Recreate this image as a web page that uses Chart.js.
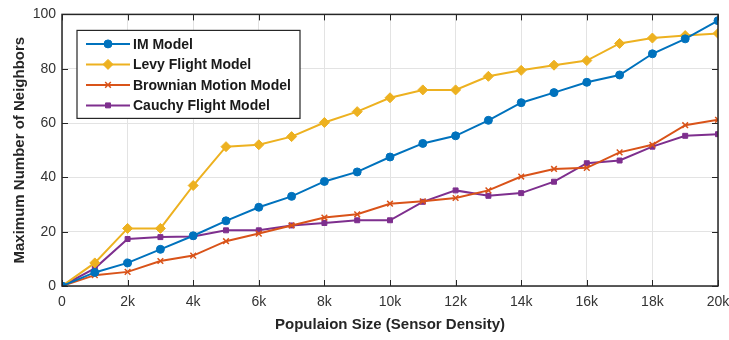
<!DOCTYPE html>
<html>
<head>
<meta charset="utf-8">
<script src="https://cdn.jsdelivr.net/npm/chart.js@4.4.1/dist/chart.umd.min.js"></script>
<style>
  html, body { margin: 0; padding: 0; background: #fff; }
  #wrap { width: 729px; height: 340px; }
</style>
</head>
<body>
<div id="wrap"><canvas id="chart" width="729" height="340"></canvas></div>
<script>
// population size (x values)
const popSize = [0, 1000, 2000, 3000, 4000, 5000, 6000, 7000, 8000, 9000, 10000,
                 11000, 12000, 13000, 14000, 15000, 16000, 17000, 18000, 19000, 20000];

// max neighbours per model
const imModel       = [0, 5, 8.5, 13.5, 18.5, 24, 29, 33, 38.5, 42, 47.5, 52.5, 55.3, 61, 67.5, 71.2, 75, 77.7, 85.5, 91, 97.7];
const levyModel     = [0, 8.5, 21.2, 21.2, 37, 51.3, 52, 55, 60.2, 64.2, 69.3, 72.2, 72.2, 77.2, 79.4, 81.3, 83, 89.3, 91.3, 92.2, 93];
const brownianModel = [0, 4, 5.2, 9.2, 11.2, 16.5, 19.3, 22.3, 25.2, 26.4, 30.3, 31.2, 32.4, 35.2, 40.3, 43.1, 43.5, 49.2, 52, 59.2, 61.2];
const cauchyModel   = [0, 6.5, 17.3, 18, 18.2, 20.5, 20.5, 22.3, 23.2, 24.2, 24.2, 31, 35.2, 33.2, 34.2, 38.4, 45.2, 46.2, 51.3, 55.3, 55.9];

const xTicks = [0, 2000, 4000, 6000, 8000, 10000, 12000, 14000, 16000, 18000, 20000];
const yTicks = [0, 20, 40, 60, 80, 100];

const FONT = "'Liberation Sans', Arial, sans-serif";

function toPoints(ys) {
    return ys.map((y, i) => ({ x: popSize[i], y: y }));
}

function series(label, ys, color, style, radius) {
    return {
        label: label,
        data: toPoints(ys),
        borderColor: color,
        backgroundColor: color,
        borderWidth: 2,
        pointStyle: style,
        pointRadius: radius,
        pointBorderWidth: style === 'crossRot' ? 1.5 : 1,
        pointBorderColor: color,
        pointBackgroundColor: color,
        tension: 0
    }
}

// matlab style box, inward ticks, and legend inside the axes
const matlabBox = {
    id: 'matlabBox',
    afterDatasetsDraw(chart) {
        const ctx = chart.ctx
        const a = chart.chartArea
        const xs = chart.scales.x
        const ys = chart.scales.y
        ctx.save()
        ctx.strokeStyle = '#262626'
        ctx.lineWidth = 1.5
        ctx.strokeRect(a.left, a.top, a.right - a.left, a.bottom - a.top)

        // inward ticks
        ctx.lineWidth = 1
        xTicks.forEach(v => {
            const px = Math.round(xs.getPixelForValue(v)) + 0.5
            ctx.beginPath()
            ctx.moveTo(px, a.bottom); ctx.lineTo(px, a.bottom - 6)
            ctx.moveTo(px, a.top); ctx.lineTo(px, a.top + 6)
            ctx.stroke()
        })
        yTicks.forEach(v => {
            const py = Math.round(ys.getPixelForValue(v)) + 0.5
            ctx.beginPath()
            ctx.moveTo(a.left, py); ctx.lineTo(a.left + 6, py)
            ctx.moveTo(a.right, py); ctx.lineTo(a.right - 6, py)
            ctx.stroke()
        })

        // legend
        const lx = a.left + 15
        const ly = a.top + 16
        const lw = 223
        const lh = 88
        ctx.fillStyle = '#fff'
        ctx.fillRect(lx, ly, lw, lh)
        ctx.strokeStyle = '#262626'
        ctx.lineWidth = 1.2
        ctx.strokeRect(lx, ly, lw, lh)
        ctx.font = "bold 14px " + FONT
        ctx.textBaseline = 'middle'
        chart.data.datasets.forEach((ds, i) => {
            const ry = ly + 13.5 + i * 20.5
            ctx.strokeStyle = ds.borderColor
            ctx.lineWidth = 2
            ctx.beginPath()
            ctx.moveTo(lx + 9, ry); ctx.lineTo(lx + 53, ry)
            ctx.stroke()
            ctx.fillStyle = ds.borderColor
            ctx.strokeStyle = ds.borderColor
            ctx.lineWidth = ds.pointBorderWidth
            Chart.helpers.drawPoint(ctx, { pointStyle: ds.pointStyle, rotation: 0, radius: ds.pointRadius, borderWidth: ds.pointBorderWidth }, lx + 31, ry)
            ctx.fillStyle = '#1a1a1a'
            ctx.fillText(ds.label, lx + 56, ry + 1)
        })
        ctx.restore()
    }
}

const ctx = document.getElementById('chart').getContext('2d')
new Chart(ctx, {
    type: 'line',
    data: {
        datasets: [
            series('IM Model', imModel, '#0072BD', 'circle', 4),
            series('Levy Flight Model', levyModel, '#EDB120', 'rectRot', 5),
            series('Brownian Motion Model', brownianModel, '#D95319', 'crossRot', 4),
            series('Cauchy Flight Model', cauchyModel, '#7E2F8E', 'rect', 3.5)
        ]
    },
    options: {
        responsive: false,
        animation: false,
        layout: { padding: { top: 13, right: 11, left: 0, bottom: 0 } },
        plugins: {
            legend: { display: false },
            tooltip: { enabled: false }
        },
        scales: {
            x: {
                type: 'linear',
                min: 0,
                max: 20000,
                afterBuildTicks: (scale) => { scale.ticks = xTicks.map(v => ({ value: v })) },
                afterFit: (scale) => {
                    scale.height = 54
                    scale.paddingLeft = 0
                    scale.paddingRight = 0
                },
                grid: { color: '#e3e3e3', drawTicks: false },
                border: { display: false },
                ticks: {
                    padding: 8,
                    color: '#333',
                    font: { family: FONT, size: 14 },
                    callback: (v) => v === 0 ? '0' : (v / 1000) + 'k'
                },
                title: {
                    display: true,
                    text: 'Populaion Size (Sensor Density)',
                    color: '#262626',
                    font: { family: FONT, size: 15, weight: 'bold' },
                    padding: { top: 2, bottom: 6 }
                }
            },
            y: {
                min: 0,
                max: 100,
                afterBuildTicks: (scale) => { scale.ticks = yTicks.map(v => ({ value: v })) },
                afterFit: (scale) => { scale.width = 62 },
                grid: { color: '#e3e3e3', drawTicks: false },
                border: { display: false },
                ticks: {
                    padding: 6,
                    color: '#333',
                    font: { family: FONT, size: 14 }
                },
                title: {
                    display: true,
                    text: 'Maximum Number of Neighbors',
                    color: '#262626',
                    font: { family: FONT, size: 15, weight: 'bold' },
                    padding: { top: 11, bottom: 0 }
                }
            }
        }
    },
    plugins: [matlabBox]
})
</script>
</body>
</html>
